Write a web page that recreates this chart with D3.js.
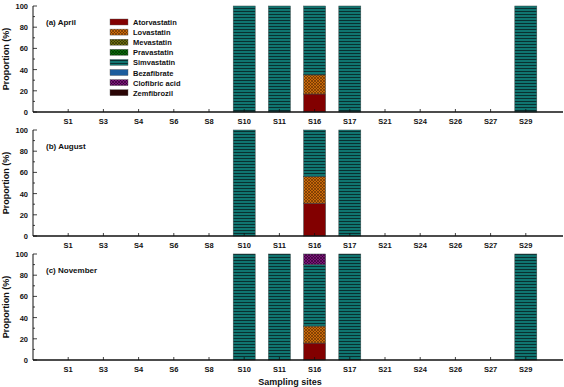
<!DOCTYPE html>
<html>
<head>
<meta charset="utf-8">
<script src="https://cdn.jsdelivr.net/npm/d3@7"></script>
<style>
body { margin: 0; background: #fff; }
text { font-family: 'Liberation Sans', Arial, sans-serif; font-weight: bold; fill: #111; }
</style>
</head>
<body>
<div id="chart"></div>
<script>
var sites = ['S1', 'S3', 'S4', 'S6', 'S8', 'S10', 'S11', 'S16', 'S17', 'S21', 'S24', 'S26', 'S27', 'S29'];
var drugs = ['Atorvastatin', 'Lovastatin', 'Mevastatin', 'Pravastatin', 'Simvastatin', 'Bezafibrate', 'Clofibric acid', 'Zemfibrozil'];
var yTicks = [0, 20, 40, 60, 80, 100];

// one row per drug, one value per site (%)
var april = [
	[0, 0, 0, 0, 0, 0, 0, 17, 0, 0, 0, 0, 0, 0],
	[0, 0, 0, 0, 0, 0, 0, 18, 0, 0, 0, 0, 0, 0],
	[0, 0, 0, 0, 0, 0, 0, 0, 0, 0, 0, 0, 0, 0],
	[0, 0, 0, 0, 0, 0, 0, 0, 0, 0, 0, 0, 0, 0],
	[0, 0, 0, 0, 0, 100, 100, 65, 100, 0, 0, 0, 0, 100],
	[0, 0, 0, 0, 0, 0, 0, 0, 0, 0, 0, 0, 0, 0],
	[0, 0, 0, 0, 0, 0, 0, 0, 0, 0, 0, 0, 0, 0],
	[0, 0, 0, 0, 0, 0, 0, 0, 0, 0, 0, 0, 0, 0]
];
var august = [
	[0, 0, 0, 0, 0, 0, 0, 31, 0, 0, 0, 0, 0, 0],
	[0, 0, 0, 0, 0, 0, 0, 25, 0, 0, 0, 0, 0, 0],
	[0, 0, 0, 0, 0, 0, 0, 0, 0, 0, 0, 0, 0, 0],
	[0, 0, 0, 0, 0, 0, 0, 0, 0, 0, 0, 0, 0, 0],
	[0, 0, 0, 0, 0, 100, 0, 44, 100, 0, 0, 0, 0, 0],
	[0, 0, 0, 0, 0, 0, 0, 0, 0, 0, 0, 0, 0, 0],
	[0, 0, 0, 0, 0, 0, 0, 0, 0, 0, 0, 0, 0, 0],
	[0, 0, 0, 0, 0, 0, 0, 0, 0, 0, 0, 0, 0, 0]
];
var november = [
	[0, 0, 0, 0, 0, 0, 0, 16, 0, 0, 0, 0, 0, 0],
	[0, 0, 0, 0, 0, 0, 0, 16, 0, 0, 0, 0, 0, 0],
	[0, 0, 0, 0, 0, 0, 0, 0, 0, 0, 0, 0, 0, 0],
	[0, 0, 0, 0, 0, 0, 0, 0, 0, 0, 0, 0, 0, 0],
	[0, 0, 0, 0, 0, 100, 100, 58, 100, 0, 0, 0, 0, 100],
	[0, 0, 0, 0, 0, 0, 0, 0, 0, 0, 0, 0, 0, 0],
	[0, 0, 0, 0, 0, 0, 0, 10, 0, 0, 0, 0, 0, 0],
	[0, 0, 0, 0, 0, 0, 0, 0, 0, 0, 0, 0, 0, 0]
];
var panels = [
	{ label: '(a) April', values: april, top: 6 },
	{ label: '(b) August', values: august, top: 130 },
	{ label: '(c) November', values: november, top: 254 }
];

var w = 564, h = 387;
var panelH = 106;
var axisX = 33, axisEnd = 563;

var svg = d3.select('#chart').append('svg').attr('width', w).attr('height', h);

// fills: solid or patterned
var defs = svg.append('defs');
function hatch(id, base, ink) {
	var p = defs.append('pattern').attr('id', id).attr('patternUnits', 'userSpaceOnUse')
		.attr('width', 3).attr('height', 3);
	p.append('rect').attr('width', 3).attr('height', 3).attr('fill', base);
	p.append('path').attr('d', 'M0,3 L3,0 M0,0 L3,3').attr('stroke', ink).attr('stroke-width', 0.6);
}
hatch('p-lova', '#c8690a', '#5a2a00');
hatch('p-meva', '#6b6b10', '#2a2a00');
hatch('p-prava', '#0a6a0a', '#002a00');
hatch('p-clof', '#7a1478', '#2a002a');
var sp = defs.append('pattern').attr('id', 'p-simva').attr('patternUnits', 'userSpaceOnUse')
	.attr('width', 4).attr('height', 3);
sp.append('rect').attr('width', 4).attr('height', 3).attr('fill', '#107470');
sp.append('rect').attr('y', 2).attr('width', 4).attr('height', 0.9).attr('fill', '#082828');

var fills = ['#820000', 'url(#p-lova)', 'url(#p-meva)', 'url(#p-prava)', 'url(#p-simva)', '#1c5c9c', 'url(#p-clof)', '#2a0505'];

var xScale = d3.scalePoint().domain(sites).range([ axisX, 561 ]).padding(1);
var barW = 22;

panels.forEach(function(pn) {
	var yScale = d3.scaleLinear().domain([ 0, 100 ]).range([ pn.top + panelH, pn.top ]);
	var g = svg.append('g');

	// stack the drug rows per site
	var rows = sites.map(function(s, i) {
		var r = { site: s };
		drugs.forEach(function(d, k) { r[d] = pn.values[k][i]; });
		return r;
	});
	var stacked = d3.stack().keys(drugs)(rows);

	stacked.forEach(function(layer, k) {
		g.selectAll('.bar' + k)
			.data(layer.filter(function(d) { return d[1] - d[0] > 0; }))
			.enter()
			.append('rect')
			.attr('x', function(d) { return xScale(d.data.site) - barW / 2; })
			.attr('y', function(d) { return yScale(d[1]); })
			.attr('width', barW)
			.attr('height', function(d) { return yScale(d[0]) - yScale(d[1]); })
			.attr('fill', fills[k])
			.attr('stroke', '#3a4a4a')
			.attr('stroke-width', 0.5);
	});

	// y axis with inward ticks
	g.append('line').attr('x1', axisX).attr('x2', axisX)
		.attr('y1', yScale(0)).attr('y2', yScale(100)).attr('stroke', '#111').attr('stroke-width', 1);
	d3.range(0, 101, 10).forEach(function(v) {
		var major = v % 20 == 0;
		g.append('line').attr('x1', axisX).attr('x2', axisX + (major ? 4 : 2))
			.attr('y1', yScale(v)).attr('y2', yScale(v)).attr('stroke', '#111').attr('stroke-width', 0.8);
	});
	g.selectAll('.ytick').data(yTicks).enter().append('text')
		.attr('x', axisX - 5).attr('y', function(d) { return yScale(d) + 3; })
		.attr('text-anchor', 'end').attr('font-size', 7.5)
		.text(function(d) { return d; });

	// x axis
	g.append('line').attr('x1', axisX).attr('x2', axisEnd)
		.attr('y1', yScale(0)).attr('y2', yScale(0)).attr('stroke', '#111').attr('stroke-width', 1.3);
	g.selectAll('.xt').data(sites).enter().append('line')
		.attr('x1', function(d) { return xScale(d); }).attr('x2', function(d) { return xScale(d); })
		.attr('y1', yScale(0)).attr('y2', yScale(0) - 3).attr('stroke', '#111').attr('stroke-width', 0.8);
	g.selectAll('.xl').data(sites).enter().append('text')
		.attr('x', function(d) { return xScale(d); }).attr('y', yScale(0) + 12)
		.attr('text-anchor', 'middle').attr('font-size', 7.5)
		.text(function(d) { return d; });

	g.append('text').attr('x', 46).attr('y', pn.top + 19).attr('font-size', 8).text(pn.label);

	g.append('text')
		.attr('transform', 'translate(9,' + (pn.top + panelH / 2) + ') rotate(-90)')
		.attr('text-anchor', 'middle').attr('font-size', 9)
		.text('Proportion  (%)');
});

// legend
var legend = svg.append('g').attr('transform', 'translate(110,19)');
drugs.forEach(function(d, k) {
	legend.append('rect').attr('x', 0).attr('y', k * 10.1).attr('width', 18).attr('height', 6)
		.attr('fill', fills[k]).attr('stroke', '#555').attr('stroke-width', 0.4);
	legend.append('text').attr('x', 23).attr('y', k * 10.1 + 6).attr('font-size', 7.5).text(d);
});

svg.append('text').attr('x', 290).attr('y', 385).attr('text-anchor', 'middle')
	.attr('font-size', 9).text('Sampling sites');
</script>
</body>
</html>
